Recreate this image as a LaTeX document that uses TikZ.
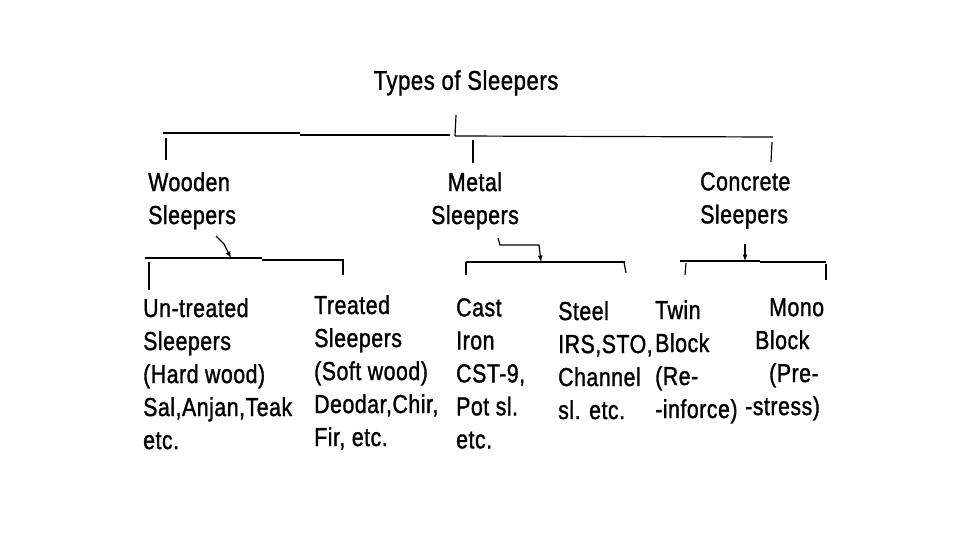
\documentclass[tikz,border=0pt]{standalone}
\usepackage{fontspec}
\setmainfont[FakeStretch=0.82,FakeBold=1.2,LetterSpace=2]{Liberation Sans}
\usetikzlibrary{arrows}
\tikzset{
  lbl/.style={anchor=north west,inner sep=0pt,align=left,font=\fontsize{26}{33}\selectfont},
  brk/.style={line width=1.2pt},
  brkthick/.style={line width=2.4pt},
  pointer/.style={line width=1.2pt,-latex},
}

\begin{document}
\begin{tikzpicture}[x=1pt,y=-1pt]
   \useasboundingbox[fill=white] (0,0) rectangle (960,540);
   % top level
   \node[lbl,anchor=north,font=\fontsize{27}{33}\selectfont] (types) at (466,70) {Types of Sleepers};
   \coordinate (t0) at (456,115);
   \coordinate (t1) at (455,136);
   \draw[brk] (t0) -- (t1);
   \coordinate (hL) at (163,133);
   \coordinate (hM) at (300,133);
   \coordinate (hR) at (773,137);
   \draw[brk] (hL) -- (hM);
   \draw[brkthick] (300,135) -- (450,135);
   \draw[brk] (t1) -- (hR);
   % second level
   \node[lbl] (wood) at (148,172) {Wooden\\Sleepers};
   \node[lbl,anchor=north,align=center] (metal) at (475,172) {Metal\\Sleepers};
   \node[lbl] (conc) at (700,172) {Concrete\\Sleepers};
   \coordinate (dW) at (166,138);
   \coordinate (dM) at (473,140);
   \coordinate (dC) at (772,142);
   \draw[brk] (dW) -- (166,160);
   \draw[brk] (dM) -- (473,163);
   \draw[brk] (dC) -- (771,162);
   % wooden branch
   \coordinate (aW) at (216,236);
   \coordinate (bW) at (231,258);
   \draw[pointer] (aW) -- (224,244) -- (bW);
   \draw[brk] (145,258) -- (262,258);
   \draw[brkthick] (262,260) -- (343,260);
   \draw[brk] (343,259) -- (343,275);
   \draw[brk] (149,262) -- (149,290);
   % metal branch
   \coordinate (aM) at (498,238);
   \coordinate (bM) at (541,262);
   \draw[pointer] (aM) -- (500,245) -- (539,245) -- (bM);
   \draw[brk] (466,262) -- (625,262);
   \draw[brk] (466,262) -- (466,275);
   \draw[brk] (624,262) -- (626,273);
   % concrete branch
   \coordinate (aC) at (745,244);
   \coordinate (bC) at (745,261);
   \draw[pointer] (aC) -- (bC);
   \draw[brkthick] (680,261) -- (760,261);
   \draw[brk] (760,262) -- (826,262);
   \draw[brk] (686,263) -- (685,275);
   \draw[brk] (826,264) -- (826,280);
   % leaves
   \node[lbl] (untreated) at (143,298) {Un-treated\\Sleepers\\(Hard wood)\\Sal,Anjan,Teak\\etc.};
   \node[lbl] (treated) at (314,295) {Treated\\Sleepers\\(Soft wood)\\Deodar,Chir,\\Fir, etc.};
   \node[lbl] (cast) at (456,298) {Cast\\Iron\\CST-9,\\Pot sl.\\etc.};
   \node[lbl] (steel) at (558,301) {Steel\\IRS,STO,\\Channel\\sl. etc.};
   \node[lbl] (twin) at (655,300) {Twin\\Block\\(Re-\\-inforce)};
   \node[lbl] (mono) at (745,298) {\hspace{24pt}Mono\\\hspace{10pt}Block\\\hspace{24pt}(Pre-\\-stress)};
\end{tikzpicture}
\end{document}
